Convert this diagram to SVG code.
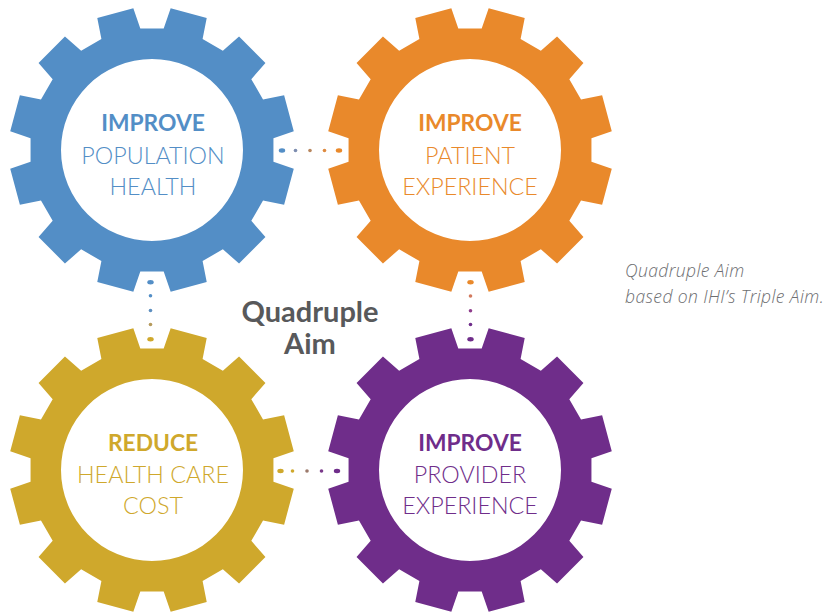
<svg xmlns="http://www.w3.org/2000/svg" xmlns:xlink="http://www.w3.org/1999/xlink" width="826" height="614" viewBox="0 0 826 614">
  <defs>
    <style>
      .gear { fill-rule: evenodd; }
      .blue { fill: #538ec6; }
      .orange { fill: #e9892b; }
      .gold { fill: #cfa82c; }
      .purple { fill: #6f2d8a; }
      .head { font-family: Lato, "Liberation Sans", sans-serif; font-weight: 700; font-size: 22.8px; text-anchor: middle; }
      .body { font-family: Lato, "Liberation Sans", sans-serif; font-weight: 300; font-size: 23.3px; text-anchor: middle; }
      .title { font-family: Lato, "Liberation Sans", sans-serif; font-weight: 700; font-size: 29px; fill: #58595b; text-anchor: middle; }
      .note { font-family: "Open Sans", "Liberation Sans", sans-serif; font-style: italic; font-weight: 300; font-size: 17.5px; letter-spacing: 0.4px; fill: #6d6e71; }
    </style>
    <!-- 12-tooth gear centred on the origin, with a round hole -->
    <path id="gear" d="M121.44,11.69 L141.78,18.67 L132.11,54.72 L111.02,50.59 L99.32,70.85 L113.45,87.05 L87.05,113.45 L70.85,99.32 L50.59,111.02 L54.72,132.11 L18.67,141.78 L11.69,121.44
      L-11.69,121.44 L-18.67,141.78 L-54.72,132.11 L-50.59,111.02 L-70.85,99.32 L-87.05,113.45 L-113.45,87.05 L-99.32,70.85 L-111.02,50.59 L-132.11,54.72 L-141.78,18.67 L-121.44,11.69
      L-121.44,-11.69 L-141.78,-18.67 L-132.11,-54.72 L-111.02,-50.59 L-99.32,-70.85 L-113.45,-87.05 L-87.05,-113.45 L-70.85,-99.32 L-50.59,-111.02 L-54.72,-132.11 L-18.67,-141.78 L-11.69,-121.44
      L11.69,-121.44 L18.67,-141.78 L54.72,-132.11 L50.59,-111.02 L70.85,-99.32 L87.05,-113.45 L113.45,-87.05 L99.32,-70.85 L111.02,-50.59 L132.11,-54.72 L141.78,-18.67 L121.44,-11.69 Z
      M91,0 A91,91 0 1 0 -91,0 A91,91 0 1 0 91,0 Z"/>
  </defs>

  <rect width="826" height="614" fill="#ffffff"/>

  <!-- dotted links between neighbouring gears -->
  <g id="connectors">
    <g id="link-population-patient">
      <ellipse cx="282" cy="150.5" rx="3.2" ry="2.2" fill="#538ec6"/>
      <circle cx="295.5" cy="150.5" r="1.8" fill="#7d8db0"/>
      <circle cx="310" cy="150.5" r="1.8" fill="#b8875f"/>
      <circle cx="324.5" cy="150.5" r="1.8" fill="#de8a40"/>
      <ellipse cx="339" cy="150.5" rx="3.2" ry="2.2" fill="#e9892b"/>
    </g>
    <g id="link-population-cost">
      <ellipse cx="150.5" cy="282.3" rx="3.2" ry="2.2" fill="#538ec6"/>
      <circle cx="150.5" cy="295.7" r="1.8" fill="#538ec6"/>
      <circle cx="150.5" cy="310.5" r="1.8" fill="#5e8fc0"/>
      <circle cx="150.5" cy="324.5" r="1.8" fill="#b59a5c"/>
      <ellipse cx="150.5" cy="339.3" rx="3.2" ry="2.2" fill="#cfa82c"/>
    </g>
    <g id="link-patient-provider">
      <ellipse cx="470.5" cy="282.3" rx="3.2" ry="2.2" fill="#e9892b"/>
      <circle cx="470.5" cy="296" r="1.8" fill="#d27a5e"/>
      <circle cx="470.5" cy="310.7" r="1.8" fill="#8f3d8c"/>
      <circle cx="470.5" cy="324.5" r="1.8" fill="#6f2d8a"/>
      <ellipse cx="470.5" cy="339.3" rx="3.2" ry="2.2" fill="#6f2d8a"/>
    </g>
    <g id="link-cost-provider">
      <ellipse cx="280.5" cy="471" rx="3.2" ry="2.2" fill="#cfa82c"/>
      <circle cx="292.5" cy="471" r="1.8" fill="#cfa82c"/>
      <circle cx="307" cy="471" r="1.8" fill="#9c7a6c"/>
      <circle cx="321.5" cy="471" r="1.8" fill="#7a3a8a"/>
      <ellipse cx="337" cy="471" rx="3.2" ry="2.2" fill="#6f2d8a"/>
    </g>
  </g>

  <g id="gear-population-health">
    <use xlink:href="#gear" class="gear blue" transform="translate(152,150)"/>
    <text class="head blue" x="153" y="131">IMPROVE</text>
    <text class="body blue" x="153" y="164">POPULATION</text>
    <text class="body blue" x="153" y="195">HEALTH</text>
  </g>

  <g id="gear-patient-experience">
    <use xlink:href="#gear" class="gear orange" transform="translate(470,150)"/>
    <text class="head orange" x="470" y="131">IMPROVE</text>
    <text class="body orange" x="470" y="164">PATIENT</text>
    <text class="body orange" x="470" y="195">EXPERIENCE</text>
  </g>

  <g id="gear-health-care-cost">
    <use xlink:href="#gear" class="gear gold" transform="translate(152,470)"/>
    <text class="head gold" x="153" y="451">REDUCE</text>
    <text class="body gold" x="153" y="483">HEALTH CARE</text>
    <text class="body gold" x="153" y="514">COST</text>
  </g>

  <g id="gear-provider-experience">
    <use xlink:href="#gear" class="gear purple" transform="translate(470,470)"/>
    <text class="head purple" x="470" y="451">IMPROVE</text>
    <text class="body purple" x="470" y="483">PROVIDER</text>
    <text class="body purple" x="470" y="514">EXPERIENCE</text>
  </g>

  <g id="title">
    <text class="title" x="310" y="322">Quadruple</text>
    <text class="title" x="310" y="354">Aim</text>
  </g>

  <g id="caption">
    <text class="note" x="625" y="277">Quadruple Aim</text>
    <text class="note" x="625" y="303">based on IHI’s Triple Aim.</text>
  </g>
</svg>
